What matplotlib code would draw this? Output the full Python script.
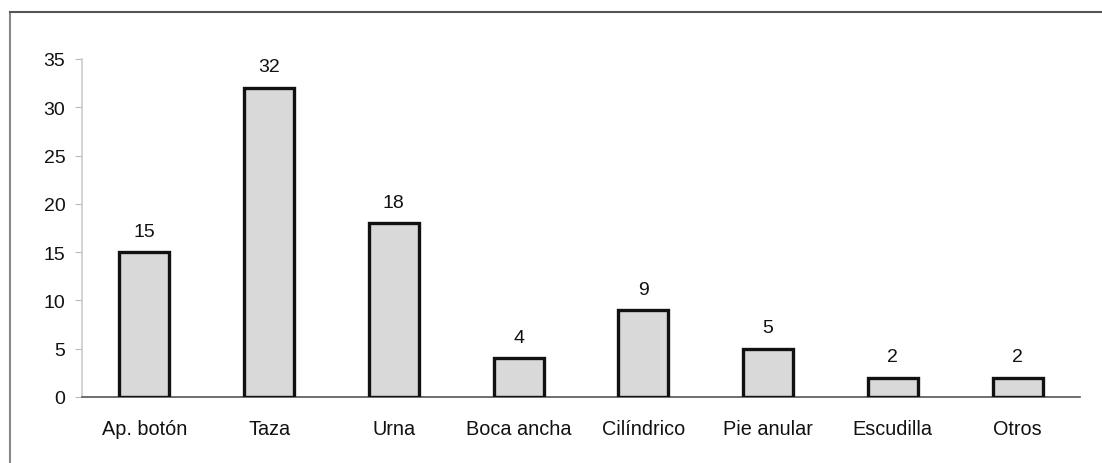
import matplotlib
matplotlib.use("Agg")
import matplotlib.pyplot as plt
from matplotlib.lines import Line2D

categories = ["Ap. botón", "Taza", "Urna", "Boca ancha", "Cilíndrico", "Pie anular", "Escudilla", "Otros"]
values = [15, 32, 18, 4, 9, 5, 2, 2]
yticks = [0, 5, 10, 15, 20, 25, 30, 35]

plt.rcParams['font.family'] = ['Liberation Sans', 'DejaVu Sans']

fig = plt.figure(figsize=(11.02, 4.64), dpi=100)
ax = fig.add_axes([82/1102, 1-398/464, (1080-82)/1102, (398-60)/464])

x = list(range(len(categories)))
bars = ax.bar(x, values, width=0.4, color="#d9d9d9", edgecolor="#111111", linewidth=2.4, zorder=3)
for xi, v in zip(x, values):
    ax.text(xi, v + 1.3, str(v), ha="center", va="bottom", fontsize=14, color="#111111")

ax.set_xlim(-0.5, len(categories) - 0.5)
ax.set_ylim(0, 35)
ax.set_yticks(yticks)
ax.set_xticks(x)
ax.set_xticklabels(categories, fontsize=14.3, color="#111111")
ax.tick_params(axis="y", labelsize=14, colors="#111111", length=5, color="#bbbbbb", pad=7)
ax.tick_params(axis="x", length=0, pad=16)
for s in ["top", "right"]:
    ax.spines[s].set_visible(False)
ax.spines["left"].set_color("#cccccc")
ax.spines["left"].set_linewidth(1.2)
ax.spines["bottom"].set_color("#555555")
ax.spines["bottom"].set_linewidth(1.2)

# figure frame
fig.add_artist(Line2D([10/1102, 10/1102], [0, 1-13/464], transform=fig.transFigure, color="#888888", lw=1.5))
fig.add_artist(Line2D([10/1102, 1], [1-13/464, 1-13/464], transform=fig.transFigure, color="#555555", lw=1.5))

fig.savefig("out.png", dpi=100)
